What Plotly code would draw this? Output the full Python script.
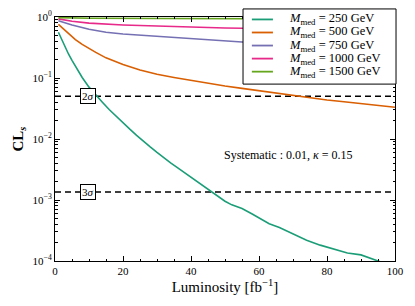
import math
import plotly.graph_objects as go

# ---- data ----
lum_250 = [1, 2, 3, 4, 5, 6, 7, 8, 10, 12, 14, 16, 18, 20, 22, 24, 26, 28, 30, 32, 34, 36, 38, 40,
           42, 44, 46, 48, 50, 52, 55, 58, 61, 63, 66, 70, 74, 78, 82, 86, 90, 95, 100]
cls_250 = [0.562, 0.417, 0.316, 0.245, 0.195, 0.155, 0.126, 0.102, 0.0708, 0.0525, 0.0398, 0.0302,
           0.0234, 0.0182, 0.0145, 0.0115, 0.00912, 0.00741, 0.00603, 0.00490, 0.00407, 0.00339,
           0.00282, 0.00234, 0.00195, 0.00162, 0.00135, 0.00112, 0.000955, 0.000832, 0.000724,
           0.000589, 0.000468, 0.000407, 0.000355, 0.000275, 0.000219, 0.000182, 0.000158,
           0.000135, 0.000126, 0.0001, 0.0000794]

lum_500 = [1, 2, 3, 4, 5, 6, 8, 10, 12, 15, 18, 20, 25, 30, 35, 40, 45, 50, 55, 60, 65, 70, 75,
           80, 85, 90, 95, 100]
cls_500 = [0.759, 0.676, 0.603, 0.525, 0.468, 0.427, 0.355, 0.302, 0.263, 0.214, 0.182, 0.166,
           0.135, 0.115, 0.102, 0.0912, 0.0813, 0.0741, 0.0676, 0.0617, 0.0562, 0.0513, 0.0468,
           0.0437, 0.0407, 0.0380, 0.0355, 0.0331]

lum_750 = [1, 5, 10, 15, 20, 25, 30, 35, 40, 45, 50, 55, 60, 70, 80, 90, 100]
cls_750 = [0.87, 0.741, 0.631, 0.562, 0.525, 0.501, 0.479, 0.457, 0.437, 0.417, 0.398, 0.389,
           0.372, 0.347, 0.331, 0.316, 0.302]

lum_1000 = [1, 5, 10, 15, 20, 25, 30, 40, 50, 55, 60, 70, 80, 100]
cls_1000 = [0.933, 0.851, 0.794, 0.759, 0.741, 0.724, 0.708, 0.684, 0.661, 0.653, 0.646, 0.631,
            0.617, 0.589]

lum_1500 = [1, 10, 30, 60, 100]
cls_1500 = [0.977, 0.955, 0.944, 0.933, 0.923]

series_names = ["250", "500", "750", "1000", "1500"]
series_lum = [lum_250, lum_500, lum_750, lum_1000, lum_1500]
series_cls = [cls_250, cls_500, cls_750, cls_1000, cls_1500]
colors = ["#1b9e77", "#d95f02", "#7570b3", "#e7298a", "#66a61e"]

sigma_levels = [0.05, 0.00135]
sigma_labels = ["2<i>σ</i>", "3<i>σ</i>"]
sigma_label_x = 9.7

x_ticks = [0, 20, 40, 60, 80, 100]
y_ticks = [1e-4, 1e-3, 1e-2, 1e-1, 1]
y_ticktext = ["10<sup>−4</sup>", "10<sup>−3</sup>", "10<sup>−2</sup>", "10<sup>−1</sup>", "10<sup>0</sup>"]
y_minor = [m * 10 ** e for e in range(-4, 0) for m in range(2, 10)]
x_minor = list(range(0, 101, 5))

FONT = "Liberation Serif"

fig = go.Figure()

for lvl in sigma_levels:
    fig.add_trace(go.Scatter(x=[0, 100], y=[lvl, lvl], mode="lines", showlegend=False,
                             line=dict(color="black", width=1.5, dash="6px,4px"), hoverinfo="skip"))

for name, lx, cy, col in zip(series_names, series_lum, series_cls, colors):
    fig.add_trace(go.Scatter(x=lx, y=cy, mode="lines", line=dict(color=col, width=1.6),
                             name=f"<i>M</i><sub>med</sub> = {name} GeV", showlegend=False))

for lvl, lab in zip(sigma_levels, sigma_labels):
    fig.add_annotation(x=sigma_label_x, y=math.log10(lvl), text=lab, showarrow=False,
                       bgcolor="white", bordercolor="black", borderwidth=1, borderpad=1,
                       font=dict(family=FONT, size=11, color="black"))

fig.add_annotation(x=68.8, y=math.log10(0.0055), text="Systematic : 0.01, <i>κ</i> = 0.15",
                   showarrow=False, font=dict(family=FONT, size=12, color="black"))

# ---- legend box (drawn as paper-space decoration) ----
leg_x0, leg_x1, leg_y0, leg_y1 = 0.553, 1.003, 0.725, 1.033
fig.add_shape(type="rect", xref="paper", yref="paper", x0=leg_x0, x1=leg_x1, y0=leg_y0, y1=leg_y1,
              fillcolor="white", line=dict(color="black", width=1), layer="above")
row_top, row_step = 0.99, 0.0535
for i, (name, col) in enumerate(zip(series_names, colors)):
    yy = row_top - i * row_step
    fig.add_shape(type="line", xref="paper", yref="paper", x0=0.579, x1=0.641, y0=yy, y1=yy,
                  line=dict(color=col, width=1.8), layer="above")
    fig.add_annotation(xref="paper", yref="paper", x=0.682, y=yy, xanchor="left", yanchor="middle",
                       text=f"<i>M</i><sub>med</sub> = {name} GeV", showarrow=False,
                       font=dict(family=FONT, size=12.5, color="black"))

axis_common = dict(showline=True, linecolor="black", linewidth=1, mirror="ticks", ticks="inside",
                   tickcolor="black", ticklen=5, showgrid=False, zeroline=False,
                   tickfont=dict(family=FONT, size=11, color="black"))

fig.update_xaxes(range=[0, 100], tickvals=x_ticks, ticktext=[str(v) for v in x_ticks],
                 title=dict(text="Luminosity [fb<sup>−1</sup>]", font=dict(family=FONT, size=15, color="black"),
                            standoff=0),
                 minor=dict(ticks="inside", ticklen=2, tickcolor="black", tickvals=x_minor),
                 **axis_common)
fig.update_yaxes(type="log", range=[-4, 0], tickvals=y_ticks, ticktext=y_ticktext,
                 title=dict(text="<b>CL<sub><i>s</i></sub></b>", font=dict(family=FONT, size=15, color="black"),
                            standoff=5),
                 minor=dict(ticks="inside", ticklen=2.5, tickcolor="black", tickvals=y_minor),
                 **axis_common)

fig.update_layout(
    width=415, height=306,
    margin=dict(l=55, r=20, t=17, b=45, autoexpand=False),
    paper_bgcolor="white", plot_bgcolor="white",
    font=dict(family=FONT, color="black"),
    showlegend=False,
)

fig.write_html("out.html", post_script="document.body.style.margin='0';",
               config={"displayModeBar": False})
